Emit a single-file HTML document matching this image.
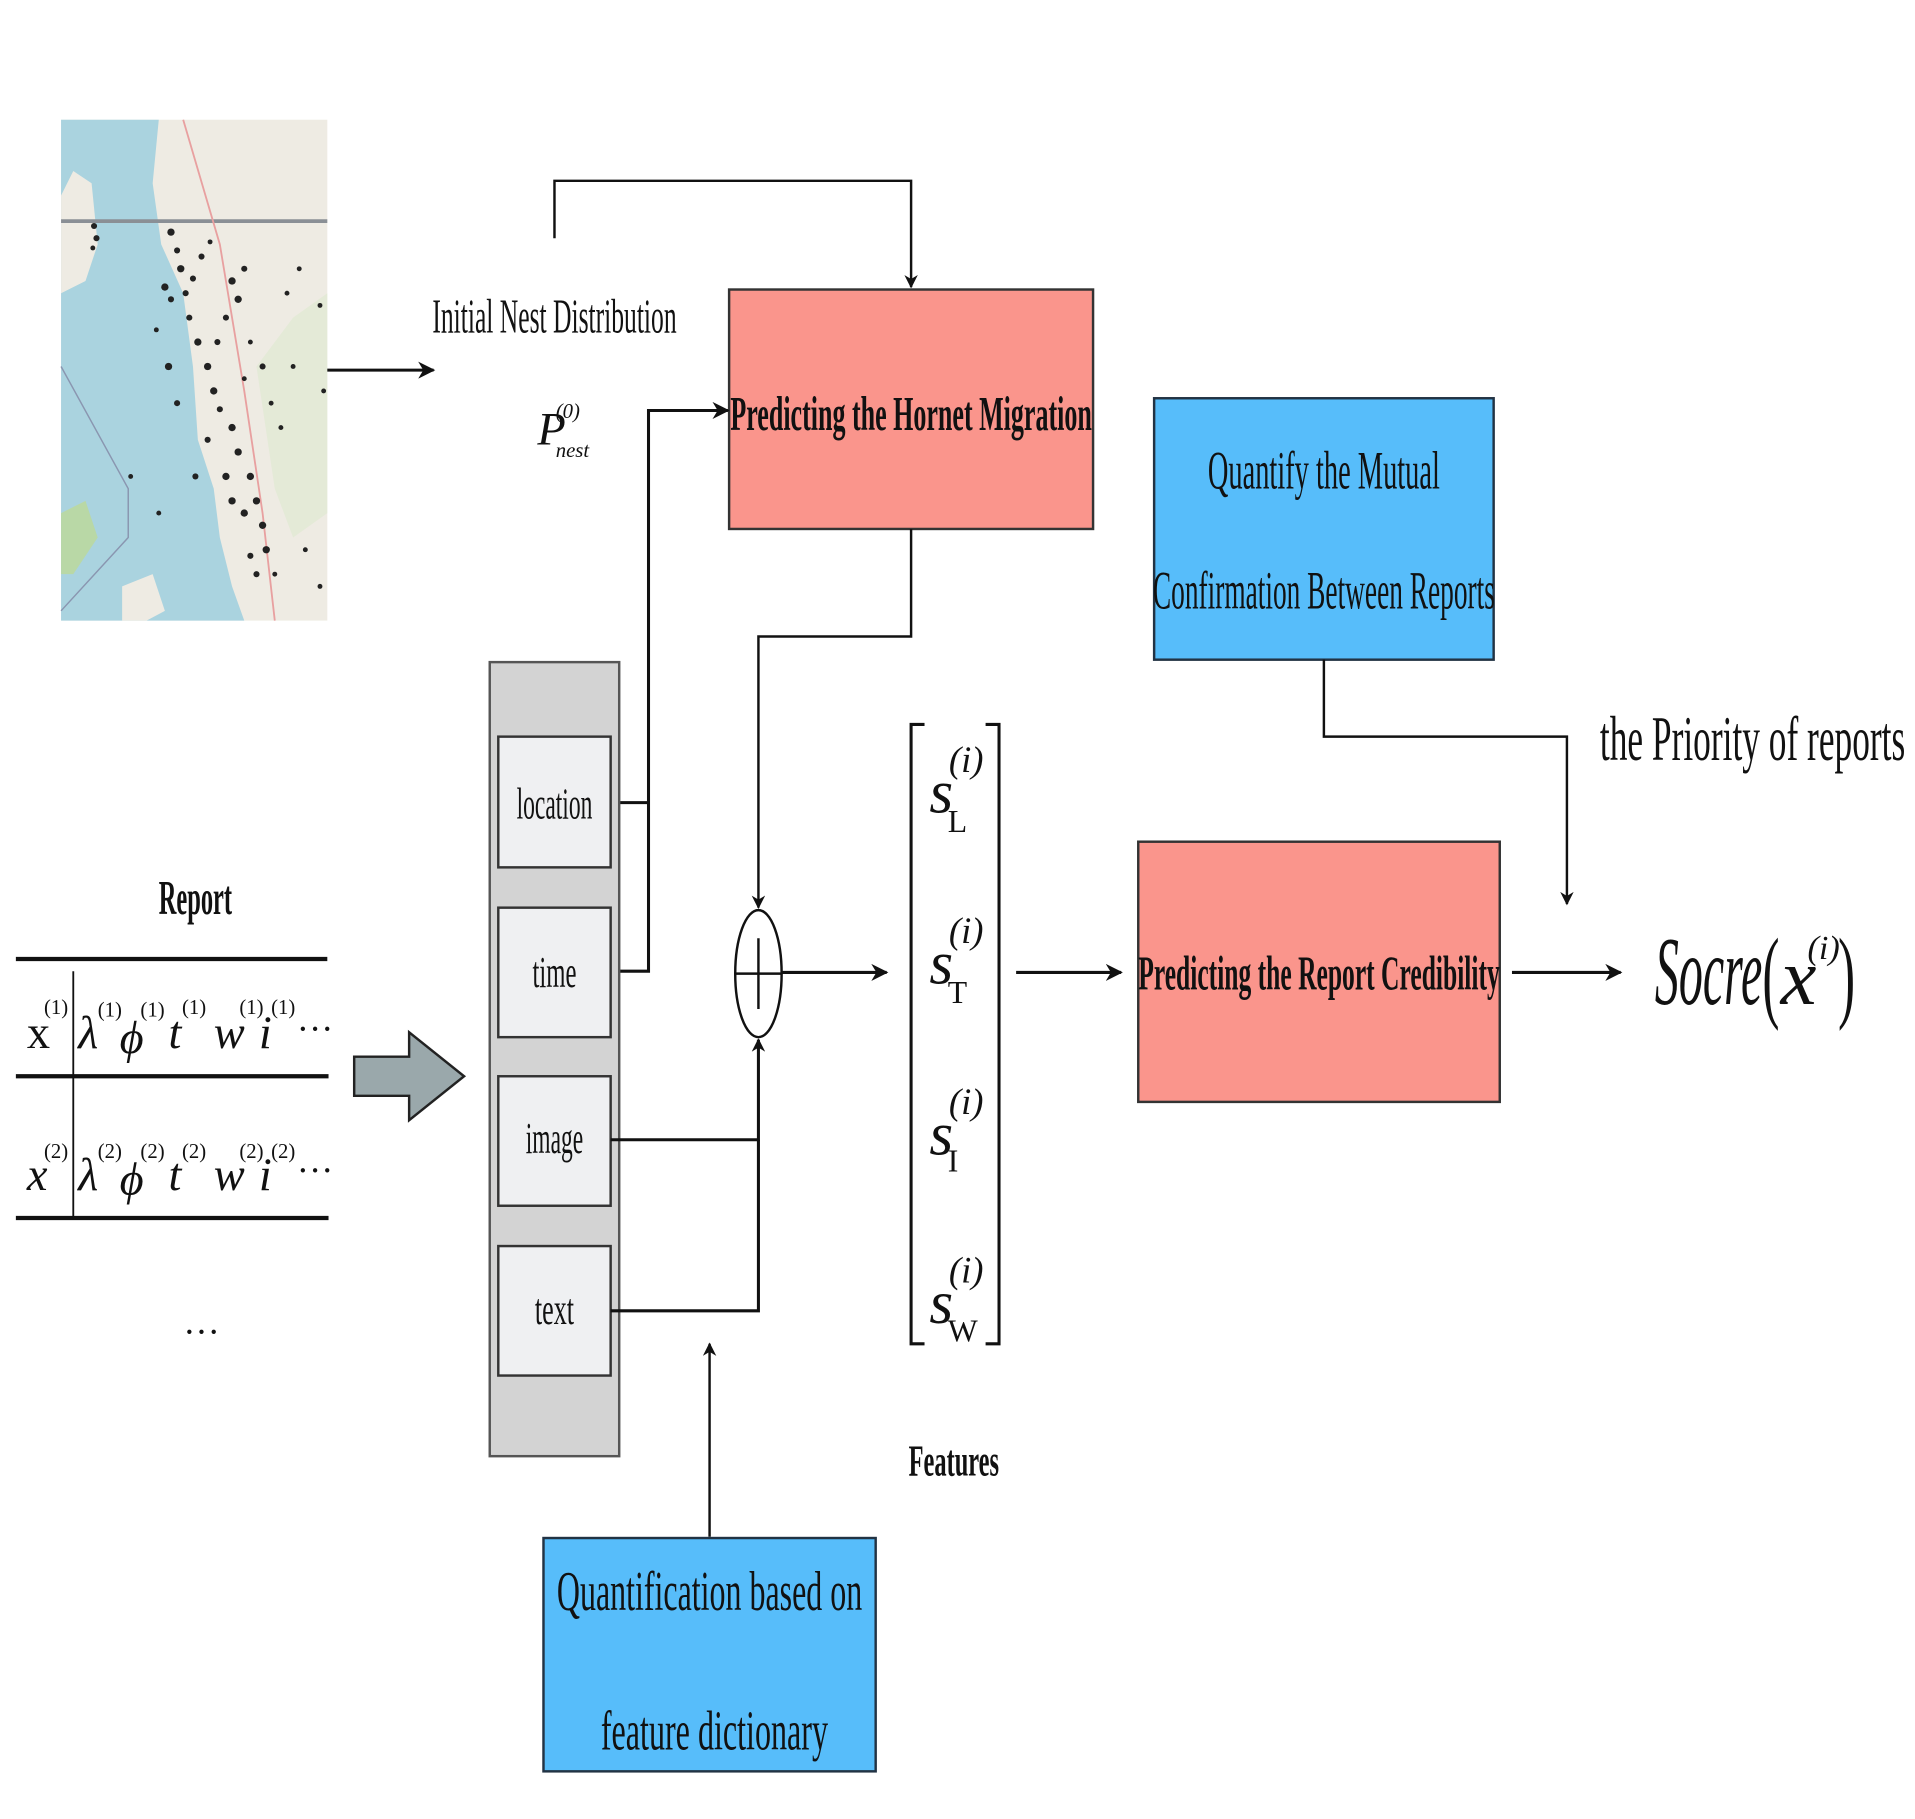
<!DOCTYPE html>
<html><head><meta charset="utf-8"><style>
html,body{margin:0;padding:0;background:#fff;}
svg{display:block;}
text{font-family:"Liberation Serif",serif;fill:#111;}
</style></head><body>
<svg width="1915" height="1819" viewBox="0 0 1568 1489" preserveAspectRatio="none" xmlns="http://www.w3.org/2000/svg">
<defs>
<marker id="ah" viewBox="0 0 10 10" refX="9" refY="5" markerWidth="11" markerHeight="11" orient="auto" markerUnits="userSpaceOnUse"><path d="M0,0 L10,5 L0,10 L3,5 z" fill="#111"/></marker>
<marker id="ah2" viewBox="0 0 10 10" refX="9" refY="5" markerWidth="14" markerHeight="14" orient="auto" markerUnits="userSpaceOnUse"><path d="M0,0 L10,5 L0,10 L3,5 z" fill="#111"/></marker>
</defs>
<!-- map -->
<rect x="50" y="98" width="218" height="410" fill="#eeebe3"/>
<path d="M50,98 L130,98 L125,150 L132,200 L150,240 L158,300 L162,360 L175,400 L180,440 L190,480 L200,508 L50,508 z" fill="#aad3df"/>
<path d="M50,160 L60,140 L75,150 L80,200 L70,230 L50,240 z" fill="#eeebe3"/>
<path d="M50,420 L70,410 L80,440 L60,470 L50,470 z" fill="#b9d8a6"/>
<path d="M100,480 L125,470 L135,500 L120,508 L100,508 z" fill="#eeebe3"/>
<path d="M210,300 L240,260 L268,240 L268,420 L240,440 L225,400 z" fill="#dfe9d2" opacity="0.7"/>
<line x1="50" y1="181" x2="268" y2="181" stroke="#8a8f95" stroke-width="3"/>
<path d="M50,300 L105,400 L105,440 L50,500" stroke="#8a96b0" stroke-width="1.2" fill="none"/>
<path d="M150,98 L180,200 L200,320 L215,420 L225,508" stroke="#e8a0a0" stroke-width="1.5" fill="none"/>
<g fill="#222">
<circle cx="77" cy="185" r="2.5"/><circle cx="79" cy="195" r="2.5"/><circle cx="76" cy="203" r="2"/>
<circle cx="140" cy="190" r="3"/><circle cx="145" cy="205" r="2.5"/><circle cx="148" cy="220" r="3"/><circle cx="135" cy="235" r="3"/><circle cx="140" cy="245" r="2.5"/>
<circle cx="165" cy="210" r="2.5"/><circle cx="172" cy="198" r="2"/><circle cx="190" cy="230" r="3"/><circle cx="195" cy="245" r="3"/><circle cx="200" cy="220" r="2.5"/>
<circle cx="155" cy="260" r="2.5"/><circle cx="162" cy="280" r="3"/><circle cx="170" cy="300" r="3"/><circle cx="175" cy="320" r="3"/><circle cx="180" cy="335" r="2.5"/>
<circle cx="138" cy="300" r="3"/><circle cx="145" cy="330" r="2.5"/><circle cx="185" cy="260" r="2.5"/><circle cx="205" cy="280" r="2"/><circle cx="215" cy="300" r="2.5"/>
<circle cx="200" cy="310" r="2"/><circle cx="190" cy="350" r="3"/><circle cx="195" cy="370" r="3"/><circle cx="205" cy="390" r="3"/><circle cx="210" cy="410" r="3"/>
<circle cx="200" cy="420" r="3"/><circle cx="215" cy="430" r="3"/><circle cx="218" cy="450" r="3"/><circle cx="205" cy="455" r="2.5"/><circle cx="210" cy="470" r="2.5"/>
<circle cx="235" cy="240" r="2"/><circle cx="245" cy="220" r="2"/><circle cx="240" cy="300" r="2"/><circle cx="262" cy="250" r="2"/><circle cx="265" cy="320" r="2"/>
<circle cx="230" cy="350" r="2"/><circle cx="130" cy="420" r="2"/><circle cx="107" cy="390" r="2"/><circle cx="160" cy="390" r="2.5"/><circle cx="170" cy="360" r="2.5"/>
<circle cx="185" cy="390" r="3"/><circle cx="190" cy="410" r="3"/><circle cx="225" cy="470" r="2"/><circle cx="250" cy="450" r="2"/><circle cx="178" cy="280" r="2.5"/>
<circle cx="152" cy="240" r="2.5"/><circle cx="158" cy="228" r="2.5"/><circle cx="128" cy="270" r="2"/><circle cx="222" cy="330" r="2"/><circle cx="262" cy="480" r="2"/>
</g>
<!-- map arrow -->
<line x1="268" y1="303" x2="355" y2="303" stroke="#111" stroke-width="2.5" marker-end="url(#ah2)"/>
<text x="454" y="272" font-size="40" text-anchor="middle" textLength="200" lengthAdjust="spacingAndGlyphs">Initial Nest Distribution</text>
<text x="440" y="364" font-size="38" font-style="italic">P</text>
<text x="455" y="342" font-size="17" font-style="italic">(0)</text>
<text x="455" y="374" font-size="17" font-style="italic">nest</text>
<!-- top loop -->
<polyline points="454,195 454,148 746,148 746,235" fill="none" stroke="#111" stroke-width="2" marker-end="url(#ah)"/>
<!-- red box 1 -->
<rect x="597" y="237" width="298" height="196" fill="#fa958c" stroke="#333" stroke-width="2"/>
<text x="746" y="352" font-size="40" font-weight="bold" text-anchor="middle" textLength="296" lengthAdjust="spacingAndGlyphs">Predicting the Hornet Migration</text>
<!-- location/time to red box -->
<polyline points="500,657 531,657" fill="none" stroke="#111" stroke-width="2.5"/>
<polyline points="500,795 531,795 531,336 596,336" fill="none" stroke="#111" stroke-width="2.5" marker-end="url(#ah2)"/>
<!-- red box down to circle -->
<polyline points="746,433 746,521 621,521 621,743" fill="none" stroke="#111" stroke-width="2" marker-end="url(#ah)"/>
<!-- gray panel -->
<rect x="401" y="542" width="106" height="650" fill="#d3d3d3" stroke="#555" stroke-width="2"/>
<g stroke="#333" stroke-width="2" fill="#eff0f2">
<rect x="408" y="603" width="92" height="107"/>
<rect x="408" y="743" width="92" height="106"/>
<rect x="408" y="881" width="92" height="106"/>
<rect x="408" y="1020" width="92" height="106"/>
</g>
<g font-size="36" text-anchor="middle">
<text x="454" y="670" textLength="62" lengthAdjust="spacingAndGlyphs">location</text>
<text x="454" y="808" textLength="36" lengthAdjust="spacingAndGlyphs">time</text>
<text x="454" y="944" textLength="47" lengthAdjust="spacingAndGlyphs">image</text>
<text x="454" y="1084" textLength="32" lengthAdjust="spacingAndGlyphs">text</text>
</g>
<polyline points="500,933 621,933 621,851" fill="none" stroke="#111" stroke-width="2.5" marker-end="url(#ah)"/>
<polyline points="500,1073 621,1073 621,933" fill="none" stroke="#111" stroke-width="2.5"/>
<!-- circle plus -->
<ellipse cx="621" cy="797" rx="19" ry="52" fill="#fff" stroke="#111" stroke-width="2"/>
<line x1="602" y1="797" x2="640" y2="797" stroke="#111" stroke-width="2"/>
<line x1="621" y1="768" x2="621" y2="826" stroke="#111" stroke-width="2"/>
<line x1="640" y1="796" x2="726" y2="796" stroke="#111" stroke-width="2.5" marker-end="url(#ah2)"/>
<!-- bottom blue -->
<line x1="581" y1="1258" x2="581" y2="1100" stroke="#111" stroke-width="2" marker-end="url(#ah)"/>
<rect x="445" y="1259" width="272" height="191" fill="#57bdfa" stroke="#234" stroke-width="2"/>
<text x="581" y="1318" font-size="46" text-anchor="middle" textLength="250" lengthAdjust="spacingAndGlyphs">Quantification based on</text>
<text x="585" y="1432" font-size="46" text-anchor="middle" textLength="186" lengthAdjust="spacingAndGlyphs">feature dictionary</text>
<!-- features bracket -->
<polyline points="757,593 746,593 746,1100 757,1100" fill="none" stroke="#111" stroke-width="2.5"/>
<polyline points="807,593 818,593 818,1100 807,1100" fill="none" stroke="#111" stroke-width="2.5"/>
<g font-size="50" font-style="italic">
<text x="761" y="665">s</text><text x="761" y="805">s</text><text x="761" y="945">s</text><text x="761" y="1083">s</text>
</g>
<g font-size="26"><text x="776" y="681">L</text><text x="776" y="821">T</text><text x="776" y="959">I</text><text x="776" y="1098">W</text></g>
<g font-size="30" font-style="italic"><text x="777" y="632">(i)</text><text x="777" y="772">(i)</text><text x="777" y="912">(i)</text><text x="777" y="1050">(i)</text></g>
<text x="781" y="1208" font-size="36" font-weight="bold" text-anchor="middle" textLength="74" lengthAdjust="spacingAndGlyphs">Features</text>
<line x1="832" y1="796" x2="918" y2="796" stroke="#111" stroke-width="2.5" marker-end="url(#ah2)"/>
<!-- red box 2 -->
<rect x="932" y="689" width="296" height="213" fill="#fa958c" stroke="#333" stroke-width="2"/>
<text x="1080" y="810" font-size="40" font-weight="bold" text-anchor="middle" textLength="296" lengthAdjust="spacingAndGlyphs">Predicting the Report Credibility</text>
<!-- top blue -->
<rect x="945" y="326" width="278" height="214" fill="#57bdfa" stroke="#234" stroke-width="2"/>
<text x="1084" y="400" font-size="44" text-anchor="middle" textLength="190" lengthAdjust="spacingAndGlyphs">Quantify the Mutual</text>
<text x="1084" y="498" font-size="44" text-anchor="middle" textLength="280" lengthAdjust="spacingAndGlyphs">Confirmation Between Reports</text>
<polyline points="1084,540 1084,603 1283,603 1283,740" fill="none" stroke="#111" stroke-width="2" marker-end="url(#ah)"/>
<text x="1310" y="622" font-size="52" textLength="250" lengthAdjust="spacingAndGlyphs">the Priority of reports</text>
<line x1="1238" y1="796" x2="1327" y2="796" stroke="#111" stroke-width="2.5" marker-end="url(#ah2)"/>
<text x="1355" y="822" font-size="80" font-style="italic" textLength="88" lengthAdjust="spacingAndGlyphs">Socre</text>
<text x="1443" y="826" font-size="84" textLength="14" lengthAdjust="spacingAndGlyphs">(</text>
<text x="1458" y="822" font-size="66" font-style="italic">x</text>
<text x="1480" y="785" font-size="28" font-style="italic">(i)</text>
<text x="1505" y="826" font-size="84" textLength="14" lengthAdjust="spacingAndGlyphs">)</text>
<!-- report table -->
<text x="160" y="748" font-size="40" font-weight="bold" text-anchor="middle" textLength="60" lengthAdjust="spacingAndGlyphs">Report</text>
<g stroke="#111" stroke-width="3.5">
<line x1="13" y1="785" x2="268" y2="785"/><line x1="13" y1="881" x2="269" y2="881"/><line x1="13" y1="997" x2="269" y2="997"/>
</g>
<line x1="60" y1="795" x2="60" y2="997" stroke="#111" stroke-width="1.5"/>
<g font-size="38" font-style="italic">
<text x="22" y="858" font-style="normal">x</text>
<text x="64" y="858">λ</text><text x="98" y="862">ϕ</text><text x="138" y="858">t</text><text x="175" y="858">w</text><text x="212" y="858">i</text>
<text x="22" y="974">x</text>
<text x="64" y="974">λ</text><text x="98" y="978">ϕ</text><text x="138" y="974">t</text><text x="175" y="974">w</text><text x="212" y="974">i</text>
</g>
<g font-size="17">
<text x="36" y="830">(1)</text><text x="80" y="832">(1)</text><text x="115" y="832">(1)</text><text x="149" y="830">(1)</text><text x="196" y="830">(1)</text><text x="222" y="830">(1)</text>
<text x="36" y="948">(2)</text><text x="80" y="948">(2)</text><text x="115" y="948">(2)</text><text x="149" y="948">(2)</text><text x="196" y="948">(2)</text><text x="222" y="948">(2)</text>
</g>
<text x="243" y="852" font-size="30">···</text>
<text x="243" y="968" font-size="30">···</text>
<text x="150" y="1100" font-size="30">···</text>
<!-- big arrow -->
<path d="M290,865 L335,865 L335,845 L380,881 L335,917 L335,897 L290,897 z" fill="#9aa8ab" stroke="#222" stroke-width="2"/>
</svg>
</body></html>
